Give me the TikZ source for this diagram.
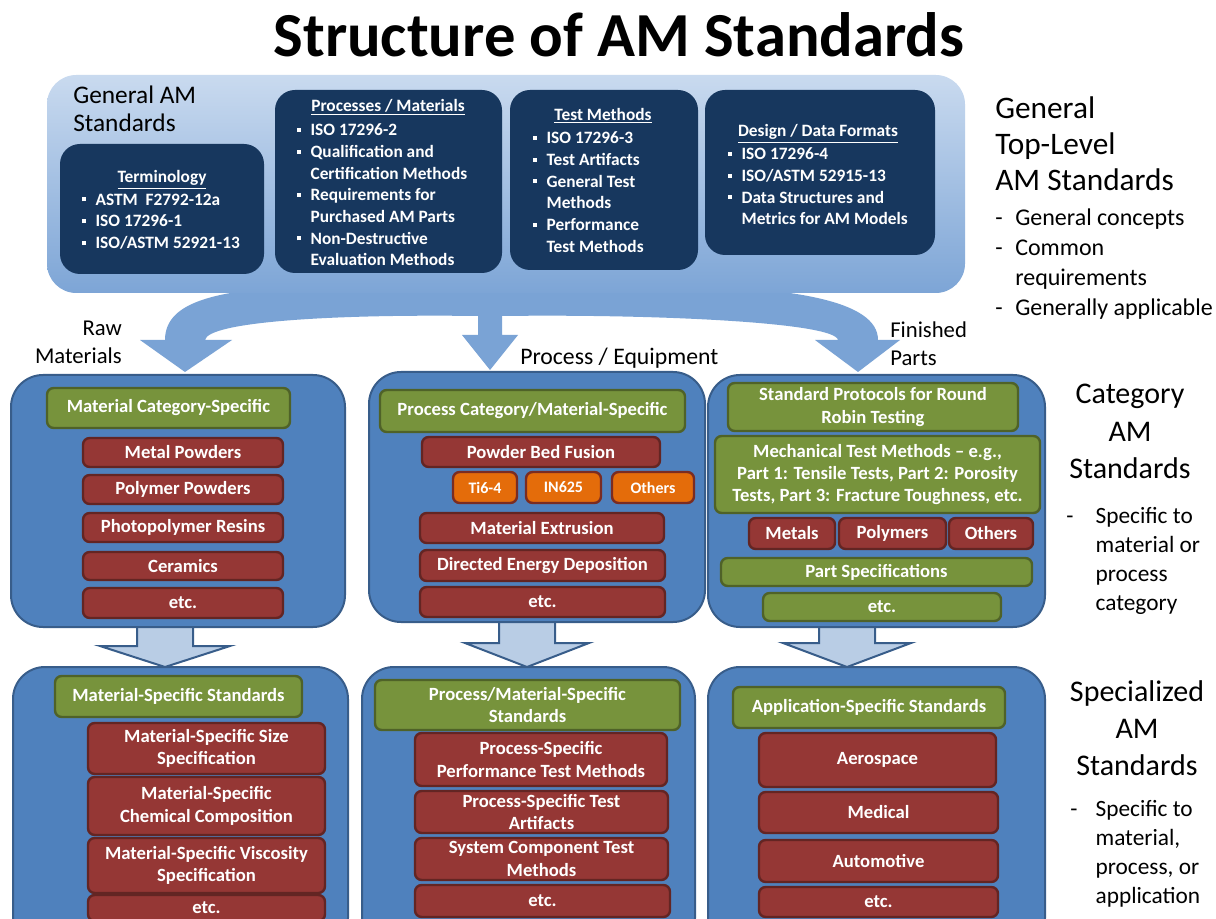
\documentclass[tikz,border=0pt]{standalone}
\usepackage{fontspec}
\setmainfont{Carlito}
\definecolor{navy}{HTML}{17375E}
\definecolor{catblue}{HTML}{4F81BD}
\definecolor{catedge}{HTML}{385D8A}
\definecolor{grn}{HTML}{77933C}
\definecolor{grnedge}{HTML}{4F6228}
\definecolor{rd}{HTML}{953735}
\definecolor{rdedge}{HTML}{632523}
\definecolor{orng}{HTML}{E46C0A}
\definecolor{orngedge}{HTML}{7A2C22}
\definecolor{gentop}{HTML}{C9DAEF}
\definecolor{genbot}{HTML}{7DA5D6}
\definecolor{arrblue}{HTML}{7AA3D5}
\definecolor{ltblue}{HTML}{B9CDE5}
\newcommand\bxf{\bfseries\fontsize{14}{16.8}\selectfont}
\newcommand\lsf{\bfseries\fontsize{13}{16.3}\selectfont}
\newcommand\bul{\makebox[10pt][l]{\rule[0.22em]{3pt}{3pt}}}
\newcommand\ind{\hspace*{10pt}}
\newcommand\dsh[1]{\makebox[#1][l]{-}}
\newcommand\abox[7]{\node[#1, minimum width={(#5-#3)*0.75pt}, minimum height={(#6-#4)*0.75pt}] (#2) at ({(#3+#5)/2},{(#4+#6)/2}) {#7};}
\newcommand\barrow[6]{\draw[ltarr] (#1-#5,#2) -- (#1+#5,#2) -- (#1+#5,#3) -- (#1+#6,#3) -- (#1,#4) -- (#1-#6,#3) -- (#1-#5,#3) -- cycle;}
\tikzset{
 catbox/.style={draw=catedge, line width=1.5pt, fill=catblue, rounded corners=24pt, inner sep=0pt},
 gbox/.style={draw=grnedge, line width=1.8pt, fill=grn, rounded corners=5pt, text=white, font=\bxf, align=center, inner sep=0pt},
 rbox/.style={draw=rdedge, line width=1.8pt, fill=rd, rounded corners=5pt, text=white, font=\bxf, align=center, inner sep=0pt},
 obox/.style={draw=orngedge, line width=1.8pt, fill=orng, rounded corners=5pt, text=white, font=\bfseries\fontsize{12}{14}\selectfont, inner sep=0pt},
 nbox/.style={fill=navy, rounded corners=15pt, inner sep=0pt},
 genbox/.style={top color=gentop, bottom color=genbot, rounded corners=22pt, inner sep=0pt},
 ltarr/.style={fill=ltblue, draw=catedge, line width=1.5pt, line join=miter},
 navyhead/.style={text=white, inner sep=0pt, anchor=base, font=\bfseries\fontsize{13}{16}\selectfont},
 navylist/.style={text=white, inner sep=0pt, anchor=north west, align=left, font=\lsf},
 lab/.style={inner sep=0pt, text=black},
}
\begin{document}
\begin{tikzpicture}[x=0.75pt,y=-0.75pt]
\useasboundingbox (0,0) rectangle (1216,919);
\clip (0,0) rectangle (1216,919);
\fill[white] (0,0) rectangle (1216,919);

% title
\node[lab, anchor=base, font=\bfseries\fontsize{47}{50}\selectfont] (title) at (619,57) {Structure of AM Standards};

% branching arrows under the general box
\fill[arrblue] (330,285) .. controls (220,288) and (165,300) .. (165,340) -- (140,340) -- (185,372) -- (232,340) -- (205,340)
  .. controls (208,322) and (330,314) .. (478,316) -- (478,335) -- (462,335) -- (490,370) -- (518,335) -- (502,335) -- (502,316)
  .. controls (650,314) and (835,322) .. (838,340) -- (815,340) -- (858,372) -- (900,340) -- (878,340)
  .. controls (878,300) and (790,288) .. (680,285) -- cycle;

% general box
\abox{genbox}{gen}{47}{75}{965}{293}{}
\node[lab, anchor=north west, align=left, font=\fontsize{19}{21}\selectfont] (genlab) at (73,86) {General AM\\Standards};

\abox{nbox}{term}{60}{144}{264}{274}{}
\node[navyhead] (termh) at (162,183) {\underline{Terminology}};
\node[navylist] (terml) at (82,193.5) {\bul ASTM\ \ F2792-12a\\\bul ISO 17296-1\\\bul ISO/ASTM 52921-13};

\abox{nbox}{proc}{275}{90}{502}{273}{}
\node[navyhead] (proch) at (388,111.6) {\underline{Processes / Materials}};
\node[navylist] (procl) at (297,123.5) {\bul ISO 17296-2\\\bul Qualification and\\\ind Certification Methods\\\bul Requirements for\\\ind Purchased AM Parts\\\bul Non-Destructive\\\ind Evaluation Methods};

\abox{nbox}{test}{510}{90}{698}{270}{}
\node[navyhead] (testh) at (603,120.6) {\underline{Test Methods}};
\node[navylist] (testl) at (533,131.5) {\bul ISO 17296-3\\\bul Test Artifacts\\\bul General Test\\\ind Methods\\\bul Performance\\\ind Test Methods};

\abox{nbox}{des}{705}{90}{935}{255}{}
\node[navyhead] (desh) at (818,137) {\underline{Design / Data Formats}};
\node[navylist] (desl) at (728,147.5) {\bul ISO 17296-4\\\bul ISO/ASTM 52915-13\\\bul Data Structures and\\\ind Metrics for AM Models};

% branch labels
\node[lab, anchor=north east, align=right, font=\fontsize{17}{21}\selectfont] (raw) at (122,321) {Raw\\Materials};
\node[lab, anchor=base west, font=\fontsize{17.8}{21}\selectfont] (peq) at (520,365) {Process / Equipment};
\node[lab, anchor=north west, align=left, font=\fontsize{17}{21}\selectfont] (fin) at (890,321) {Finished\\Parts};

% right-hand labels
\node[lab, anchor=north west, align=left, font=\fontsize{23.5}{27}\selectfont] (gtl) at (995,96) {General\\Top-Level\\AM Standards};
\node[lab, anchor=north west, align=left, font=\fontsize{18}{22.5}\selectfont] (gtll) at (995,209) {\dsh{15pt}General concepts\\\dsh{15pt}Common\\\hspace*{15pt}requirements\\\dsh{15pt}Generally applicable};
\node[lab, anchor=north, align=center, font=\fontsize{22.5}{28}\selectfont] (cat) at (1130,384) {Category\\AM\\Standards};
\node[lab, anchor=north west, align=left, font=\fontsize{17.5}{21.8}\selectfont] (catl) at (1066,507) {\dsh{22pt}Specific to\\\hspace*{22pt}material or\\\hspace*{22pt}process\\\hspace*{22pt}category};
\node[lab, anchor=north, align=center, font=\fontsize{22.5}{28}\selectfont] (spc) at (1137,680) {Specialized\\AM\\Standards};
\node[lab, anchor=north west, align=left, font=\fontsize{17.5}{21.8}\selectfont] (spcl) at (1070,800) {\dsh{19pt}Specific to\\\hspace*{19pt}material,\\\hspace*{19pt}process, or\\\hspace*{19pt}application};

% block arrows between rows
\barrow{165}{610}{646}{667}{28}{65}
\barrow{527}{610}{643}{667}{28}{62}
\barrow{847}{610}{643}{667}{28}{64}

% category row
\abox{catbox}{catL}{11}{375}{345}{627}{}
\abox{gbox}{matcat}{47}{388}{290}{428}{Material Category-Specific}
\abox{rbox}{metp}{83}{438}{283}{467}{Metal Powders}
\abox{rbox}{polp}{83}{475}{283}{504}{Polymer Powders}
\abox{rbox}{phot}{83}{513}{283}{542}{Photopolymer Resins}
\abox{rbox}{cer}{83}{552}{283}{580}{Ceramics}
\abox{rbox}{etcA}{83}{588}{283}{618}{etc.}

\abox{catbox}{catM}{369}{372}{705}{622}{}
\abox{gbox}{proccat}{380}{390}{685}{432}{Process Category/Material-Specific}
\abox{rbox}{pbf}{422}{437}{660}{467}{Powder Bed Fusion}
\abox{obox}{ti}{453}{472}{517}{503}{Ti6-4}
\abox{obox}{in}{526}{472}{601}{503}{IN625}
\abox{obox}{oth}{612}{472}{694}{503}{Others}
\abox{rbox}{mex}{420}{513}{664}{543}{Material Extrusion}
\abox{rbox}{ded}{420}{550}{665}{581}{Directed Energy Deposition}
\abox{rbox}{etcB}{420}{587}{665}{617}{etc.}

\abox{catbox}{catR}{708}{375}{1045}{627}{}
\abox{gbox}{rr}{728}{383}{1018}{431}{Standard Protocols for Round\\Robin Testing}
\abox{gbox}{mech}{715}{436}{1040}{513}{Mechanical Test Methods -- e.g.,\\Part 1: Tensile Tests, Part 2: Porosity\\Tests, Part 3: Fracture Toughness, etc.}
\abox{rbox}{met}{749}{518}{835}{549}{Metals}
\abox{rbox}{pol}{839}{518}{946}{549}{Polymers}
\abox{rbox}{othr}{949}{518}{1033}{549}{Others}
\abox{gbox}{partspec}{721}{558}{1032}{586}{Part Specifications}
\abox{gbox}{etcC}{763}{593}{1001}{621}{etc.}

% specialized row
\abox{catbox}{spL}{13}{667}{348}{950}{}
\abox{gbox}{mss}{55}{676}{302}{717}{Material-Specific Standards}
\abox{rbox}{size}{88}{723}{325}{774}{Material-Specific Size\\Specification}
\abox{rbox}{chem}{88}{777}{325}{835}{Material-Specific\\Chemical Composition}
\abox{rbox}{visc}{88}{838}{325}{893}{Material-Specific Viscosity\\Specification}
\abox{rbox}{etcD}{88}{895}{325}{921}{etc.}

\abox{catbox}{spM}{362}{667}{695}{950}{}
\abox{gbox}{pms}{375}{680}{680}{730}{Process/Material-Specific\\Standards}
\abox{rbox}{pptm}{415}{733}{667}{786}{Process-Specific\\Performance Test Methods}
\abox{rbox}{pta}{415}{791}{668}{833}{Process-Specific Test\\Artifacts}
\abox{rbox}{sct}{415}{838}{668}{880}{System Component Test\\Methods}
\abox{rbox}{etcE}{415}{885}{670}{917}{etc.}

\abox{catbox}{spR}{708}{667}{1045}{950}{}
\abox{gbox}{ass}{733}{687}{1005}{728}{Application-Specific Standards}
\abox{rbox}{aero}{759}{733}{996}{787}{Aerospace}
\abox{rbox}{med}{759}{792}{998}{833}{Medical}
\abox{rbox}{auto}{759}{840}{998}{882}{Automotive}
\abox{rbox}{etcF}{759}{887}{998}{917}{etc.}
\end{tikzpicture}
\end{document}
